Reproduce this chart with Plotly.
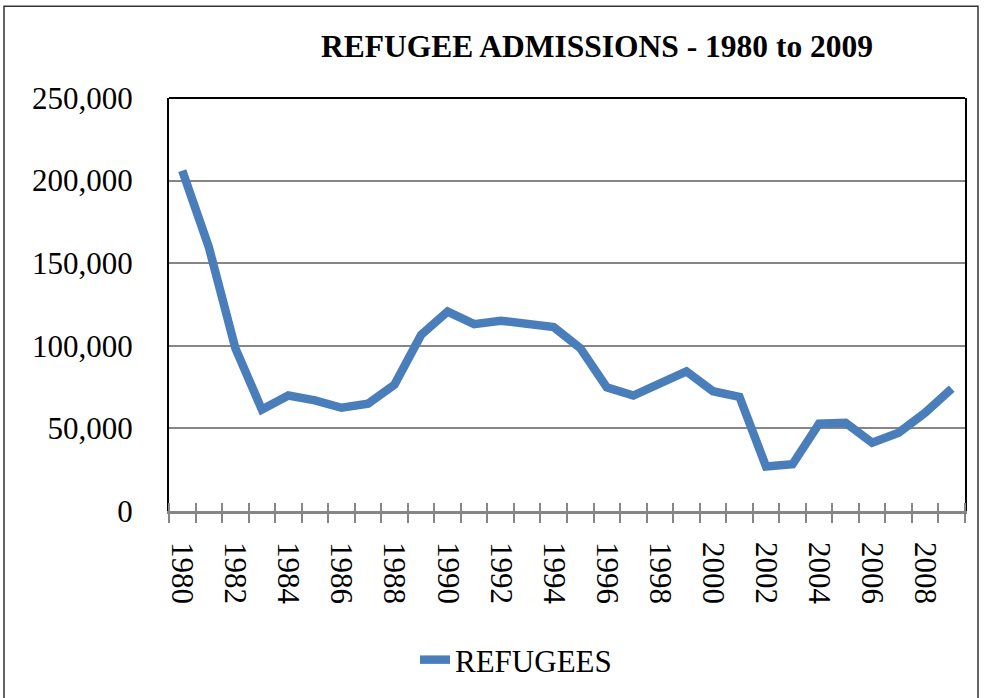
import plotly.graph_objects as go

years = list(range(1980, 2010))
refugees = [206000, 159800, 98600, 61400, 69900, 67000, 62500, 64900, 76500, 106600,
            120700, 113100, 115200, 113700, 111300, 98600, 74900, 69900, 77500, 84500,
            72500, 69100, 26900, 28300, 52800, 53400, 41400, 47400, 59500, 74100]
label_years = list(range(1980, 2010, 2))

W, H = 984, 698
L, R, T, B = 169, 19, 98, 186
PW, PH = W - L - R, H - T - B

FONT = "Liberation Serif, Times New Roman, serif"
GRAY = "#868686"
BLUE = "#4A7EBB"

fig = go.Figure()
fig.add_trace(go.Scatter(
    x=years, y=refugees, mode="lines", name="REFUGEES",
    line=dict(color=BLUE, width=8.5),
    xaxis="x", yaxis="y",
))

fig.update_layout(
    width=W, height=H,
    margin=dict(l=L, r=R, t=T, b=B),
    paper_bgcolor="white", plot_bgcolor="white",
    font=dict(family=FONT, size=31, color="black"),
    title=dict(text="<b>REFUGEE ADMISSIONS - 1980 to 2009</b>",
               font=dict(family=FONT, size=31.5, color="black"),
               xref="container", yref="container",
               x=597 / W, y=1 - 46 / H, xanchor="center", yanchor="middle"),
    showlegend=True,
    legend=dict(orientation="h", xanchor="left", yanchor="middle",
                x=(415 - L) / PW, y=(T + PH - 660) / PH,
                font=dict(family=FONT, size=31, color="black"),
                bgcolor="rgba(0,0,0,0)"),
    xaxis=dict(
        range=[1979.5, 2009.5],
        tickmode="array", tickvals=label_years,
        ticktext=[str(y) for y in label_years],
        tickangle=90, ticks="", showgrid=False, zeroline=False,
        showline=True, linecolor=GRAY, linewidth=2.5,
        ticklabelstandoff=22,
        minor=dict(tick0=1979.5, dtick=1, ticks="outside", ticklen=9,
                   tickwidth=1.5, tickcolor=GRAY, showgrid=False),
        tickfont=dict(family=FONT, size=31, color="black"),
    ),
    xaxis2=dict(
        overlaying="x", matches="x", side="bottom",
        showticklabels=False, ticks="", showgrid=False, zeroline=False,
        showline=False,
        minor=dict(tick0=1979.5, dtick=1, ticks="inside", ticklen=8,
                   tickwidth=1.5, tickcolor=GRAY, showgrid=False),
    ),
    yaxis=dict(
        range=[0, 250000], tickmode="linear", tick0=0, dtick=50000,
        tickformat=",d", showgrid=True, gridcolor=GRAY, gridwidth=2,
        zeroline=False, showline=True, linecolor="black", linewidth=2,
        mirror=True, ticks="", ticklabelstandoff=28,
        tickfont=dict(family=FONT, size=31, color="black"),
    ),
)

# dummy trace to activate the overlay axis for crossing ticks
fig.add_trace(go.Scatter(x=[years[0]], y=[refugees[0]], xaxis="x2", yaxis="y",
                         mode="markers", marker=dict(opacity=0), showlegend=False,
                         hoverinfo="skip"))

# top border of plot area
fig.add_shape(type="line", xref="x domain", yref="y domain", x0=0, x1=1, y0=1, y1=1,
              line=dict(color="black", width=2))
# outer chart border
fig.add_shape(type="rect", xref="paper", yref="paper",
              x0=(4 - L) / PW, x1=(978 - L) / PW,
              y0=(T + PH - 720) / PH, y1=(T + PH - 6) / PH,
              line=dict(color="#333333", width=1.5), layer="below")

fig.write_html("out.html")
